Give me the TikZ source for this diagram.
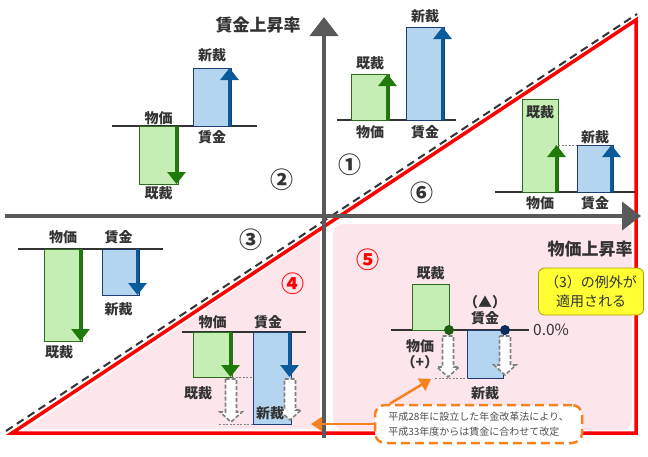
\documentclass[tikz,border=0pt]{standalone}
\usepackage{fontspec}
\setmainfont{Noto Sans CJK JP}
\usepackage{tikz}
\usetikzlibrary{arrows.meta,positioning}
\definecolor{axisgrey}{HTML}{595959}
\definecolor{txtdark}{HTML}{333333}
\definecolor{gfill}{HTML}{C4EEB4}
\definecolor{gedge}{HTML}{2F6B1E}
\definecolor{garrow}{HTML}{1F7A0A}
\definecolor{bfill}{HTML}{B3D5EF}
\definecolor{bedge}{HTML}{1F3C73}
\definecolor{barrow}{HTML}{0B5A9C}
\definecolor{dotgreen}{HTML}{1B5E10}
\definecolor{dotnavy}{HTML}{0D2A5C}
\definecolor{zonepink}{HTML}{FDE5EC}
\definecolor{noteorange}{HTML}{F5821F}
\definecolor{notegrey}{HTML}{4D4D4D}
\definecolor{excyellow}{HTML}{FFFF33}
\definecolor{excedge}{HTML}{A89F00}

% white block arrow with dashed rim: x, top, tip
\newcommand{\hollowarr}[3]{%
  \draw[hollow] (#1-5.5,#2) -- (#1+5.5,#2) -- (#1+5.5,#3-10) -- (#1+11,#3-10)
    -- (#1,#3) -- (#1-11,#3-10) -- (#1-5.5,#3-10) -- cycle;}

\begin{document}
\begin{tikzpicture}[x=1pt,y=-1pt,
  axisln/.style={draw=axisgrey,line width=4pt,-{Triangle[length=19pt,width=28pt]}},
  redline/.style={draw=red,line width=3.5pt},
  diag/.style={draw=txtdark,line width=2pt,dash pattern=on 8pt off 5pt},
  baseln/.style={draw=txtdark,line width=2pt},
  gbar/.style={draw=gedge,fill=gfill,line width=0.8pt,inner sep=0pt,outer sep=0pt},
  bbar/.style={draw=bedge,fill=bfill,line width=0.8pt,inner sep=0pt,outer sep=0pt},
  garr/.style={draw=garrow,line width=3pt,-{Triangle[length=12pt,width=18pt]}},
  barr/.style={draw=barrow,line width=3pt,-{Triangle[length=12pt,width=18pt]}},
  guide/.style={draw=gray,line width=0.6pt,dash pattern=on 2pt off 1.5pt},
  hollow/.style={draw=gray,fill=white,line width=1.6pt,dash pattern=on 4pt off 2pt},
  lbl/.style={font=\fontsize{14}{16}\selectfont\bfseries,text=txtdark,inner sep=1pt},
  ax/.style={font=\fontsize{17}{19}\selectfont\bfseries,text=txtdark},
  num/.style={font=\fontsize{23}{25}\selectfont\bfseries,text=txtdark},
  dot/.style={circle,inner sep=0pt,minimum size=10pt},
  note/.style={draw=noteorange,fill=white,line width=2.5pt,dash pattern=on 9pt off 5pt,rounded corners=10pt,
    minimum width=207pt,minimum height=38pt,align=left,text=notegrey,font=\fontsize{10}{15}\selectfont},
  exc/.style={draw=excedge,fill=excyellow,line width=0.8pt,rounded corners=6pt,minimum width=105pt,
    minimum height=47pt,align=center,text=txtdark,font=\fontsize{14}{19}\selectfont},
  orarr/.style={draw=noteorange,line width=2.5pt,-{Triangle[length=11pt,width=14pt]}}
]
\useasboundingbox (0,0) rectangle (648,456);

% zones
\fill[zonepink] (26,429) -- (320,233) -- (320,429) -- cycle;
\fill[zonepink,rounded corners=10pt] (333,224) rectangle (632,430);
\draw[redline] (12,433) -- (636,20) -- (636,433) -- cycle;
\draw[diag] (6,431) -- (637,14);

% axes
\coordinate (xs) at (5,216); \coordinate (xe) at (641,216);
\coordinate (ys) at (324,438); \coordinate (ye) at (324,17);
\draw[axisln] (xs) -- (xe);
\draw[axisln] (ys) -- (ye);
\node[ax] (ylab) at (258,25) {賃金上昇率};
\node[ax] (xlab) at (590,249) {物価上昇率};

% (1)
\draw[baseln] (337,120) -- (456,120);
\node[gbar,minimum width=38,minimum height=46,anchor=south west] (g1) at (351,120) {};
\node[bbar,minimum width=38,minimum height=93,anchor=south west] (b1) at (406,120) {};
\draw[garr] ([xshift=-1.5]g1.south east) -- ([xshift=-1.5]g1.north east);
\draw[barr] ([xshift=-1.5]b1.south east) -- ([xshift=-1.5]b1.north east);
\node[lbl,above=3pt of g1] (g1t) {既裁};
\node[lbl,above=3pt of b1] (b1t) {新裁};
\node[lbl,below=4pt of g1] (g1b) {物価};
\node[lbl,below=4pt of b1] (b1b) {賃金};
\node[num] (n1) at (350,165) {①};

% (2)
\draw[baseln] (112,126) -- (257,126);
\node[gbar,minimum width=39,minimum height=58,anchor=north west] (g2) at (139,126) {};
\node[bbar,minimum width=38,minimum height=58,anchor=south west] (b2) at (193,126) {};
\draw[garr] ([xshift=-1.5]g2.north east) -- ([xshift=-1.5]g2.south east);
\draw[barr] ([xshift=-1.5]b2.south east) -- ([xshift=-1.5]b2.north east);
\node[lbl,above=0pt of g2] (g2t) {物価};
\node[lbl,below=1pt of g2] (g2b) {既裁};
\node[lbl,above=5pt of b2] (b2t) {新裁};
\node[lbl,below=3pt of b2] (b2b) {賃金};
\node[num] (n2) at (282,180) {②};

% (3)
\draw[baseln] (18,249) -- (163,249);
\node[gbar,minimum width=38,minimum height=92,anchor=north west] (g3) at (44,249) {};
\node[bbar,minimum width=37,minimum height=46,anchor=north west] (b3) at (102,249) {};
\draw[garr] ([xshift=-1.5]g3.north east) -- ([xshift=-1.5]g3.south east);
\draw[barr] ([xshift=-1.5]b3.north east) -- ([xshift=-1.5]b3.south east);
\node[lbl,above=4pt of g3] (g3t) {物価};
\node[lbl,above=4pt of b3,xshift=-2pt] (b3t) {賃金};
\node[lbl,below=3pt of g3,xshift=-4pt] (g3b) {既裁};
\node[lbl,below=6pt of b3,xshift=-2pt] (b3b) {新裁};
\node[num] (n3) at (251,240) {③};

% (4)
\draw[baseln] (182,332) -- (306,332);
\node[gbar,minimum width=39,minimum height=45,anchor=north west] (g4) at (193,332) {};
\node[bbar,minimum width=38,minimum height=92,anchor=north west] (b4) at (253,332) {};
\draw[guide] (g4.south east) -- (b4.west |- g4.south east);
\draw[guide] ([xshift=-34]b4.south west) -- (b4.south west);
\draw[garr] ([xshift=-1.5]g4.north east) -- ([xshift=-1.5]g4.south east);
\draw[barr] ([xshift=-1.5]b4.north east) -- ([xshift=-1.5]b4.north east |- g4.south east);
\hollowarr{231}{379}{422}
\hollowarr{290}{379}{420}
\node[lbl,above=2pt of g4] (g4t) {物価};
\node[lbl,above=2pt of b4,xshift=-4pt] (b4t) {賃金};
\node[lbl] (g4b) at (198,393) {既裁};
\node[lbl] (b4b) at (270,413) {新裁};
\node[num,text=red] (n4) at (293,284) {④};

% (5)
\draw[baseln] (391,330) -- (529,330);
\node[gbar,minimum width=37,minimum height=46,anchor=south west] (g5) at (412,330) {};
\node[bbar,minimum width=36,minimum height=48,anchor=north west] (b5) at (467,330) {};
\draw[guide] ([xshift=-32]b5.south west) -- (b5.south west);
\hollowarr{448}{336}{377}
\hollowarr{505}{336}{375}
\node[dot,fill=dotgreen] (d1) at (g5.south east) {};
\node[dot,fill=dotnavy] (d2) at ([xshift=2]b5.north east) {};
\node[lbl,above=3pt of g5] (g5t) {既裁};
\node[lbl,above=4pt of b5] (b5t) {賃金};
\node[lbl,above=0pt of b5t] (b5m) {（▲）};
\node[lbl] (g5b) at (420,346) {物価};
\node[lbl,below=0pt of g5b] (g5p) {（+）};
\node[lbl,below=7pt of b5] (b5b) {新裁};
\node[lbl,font=\fontsize{15.5}{17}\selectfont,anchor=west] (zero) at (532,330) {0.0\%};
\node[num,text=red] (n5) at (368,260) {⑤};

% (6)
\draw[baseln] (495,192) -- (635,192);
\node[gbar,minimum width=36,minimum height=93,anchor=south west] (g6) at (522,192) {};
\node[bbar,minimum width=36,minimum height=47,anchor=south west] (b6) at (577,192) {};
\draw[guide] (g6.east |- b6.north west) -- (b6.north west);
\draw[garr] ([xshift=-1.5]g6.south east) -- ([xshift=-1.5]g6.south east |- b6.north);
\draw[barr] ([xshift=-1.5]b6.south east) -- ([xshift=-1.5]b6.north east);
\node[lbl,below=5pt] (g6t) at (g6.north) {既裁};
\node[lbl,above=0pt of b6] (b6t) {新裁};
\node[lbl,below=3pt of g6] (g6b) {物価};
\node[lbl,below=3pt of b6] (b6b) {賃金};
\node[num] (n6) at (422,193) {⑥};

% exception and note
\node[exc] (excbox) at (591,291.5) {（3）の例外が\\適用される};
\node[note] (memo) at (478.5,424) {平成28年に設立した年金改革法により、\\平成33年度からは賃金に合わせて改定};
\coordinate (tipA) at (311,424);
\coordinate (tipB) at (431,379);
\draw[orarr] (memo.west) -- (tipA);
\draw[orarr] ([xshift=16]memo.north west) -- (tipB);
\end{tikzpicture}
\end{document}
